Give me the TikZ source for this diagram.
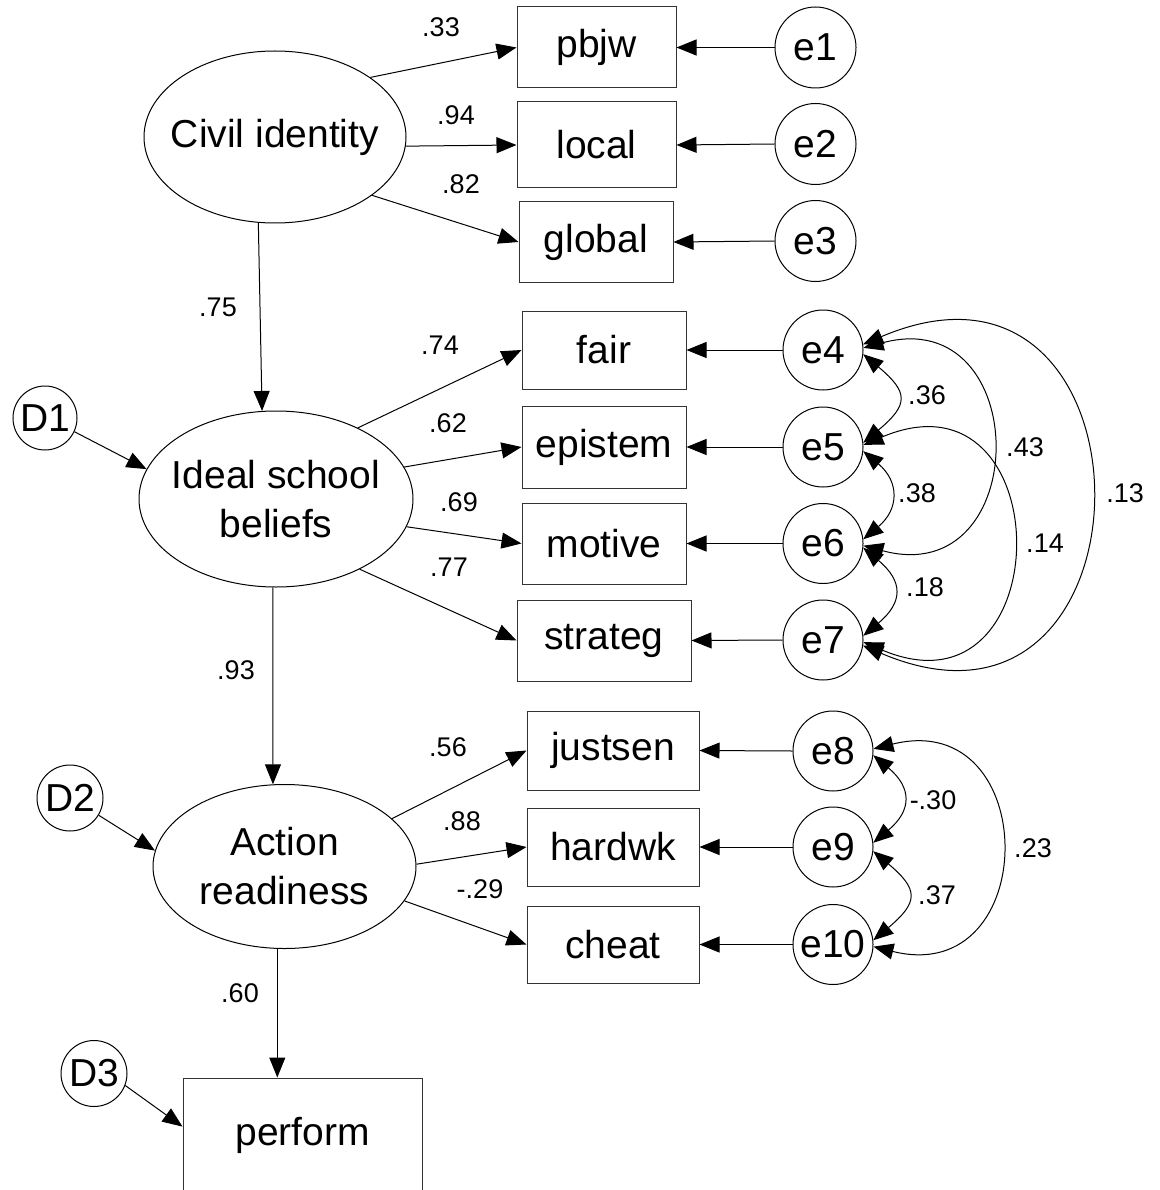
\documentclass[tikz,border=0pt]{standalone}
\usepackage{fontspec}
\setmainfont{Liberation Sans}
\usetikzlibrary{arrows.meta,shapes.geometric}
\begin{document}
\begin{tikzpicture}[x=1pt,y=1pt,
  every node/.style={inner sep=0pt},
  big/.style={font=\fontsize{39}{49}\selectfont},
  coef/.style={font=\fontsize{27}{30}\selectfont},
  latent/.style={draw, ellipse, line width=1pt},
  obs/.style={draw=black!80, rectangle, line width=1pt, big},
  err/.style={draw, circle, line width=1pt, minimum size=80pt, big},
  dist/.style={draw, circle, line width=1pt, minimum size=66pt, big},
  reg/.style={-{Triangle[length=20pt,width=16pt]}, line width=1pt},
  cov/.style={{Triangle[length=20pt,width=16pt]}-{Triangle[length=20pt,width=16pt]}, line width=1pt}
]
\useasboundingbox (0,0) rectangle (1159,-1190);

% latent variables
\node[latent, minimum width=262pt, minimum height=172pt,
      label={[big]center:Civil identity}] (civ) at (275,-137) {};
\node[latent, minimum width=274pt, minimum height=176pt,
      label={[big,align=center]center:{Ideal school\\beliefs}}] (isb) at (276,-499) {};
\node[latent, minimum width=263pt, minimum height=164pt,
      label={[big,align=center]center:{Action\\readiness}}] (act) at (284.5,-866.5) {};

% disturbances
\node[dist, minimum size=64pt] (d1) at (45,-418) {D1};
\node[dist] (d2) at (70,-798) {D2};
\node[dist] (d3) at (94,-1073.5) {D3};

% indicators
\node[obs, minimum width=159pt, minimum height=81pt] (pbjw)   at (596.5,-47.5) {pbjw};
\node[obs, minimum width=159pt, minimum height=86pt] (local)  at (596.5,-145) {local};
\node[obs, minimum width=154pt, minimum height=80pt] (global) at (596,-242) {global};
\node[obs, minimum width=164pt, minimum height=78pt] (fair)    at (604,-350) {fair};
\node[obs, minimum width=164pt, minimum height=82pt] (epistem) at (604,-447) {epistem};
\node[obs, minimum width=164pt, minimum height=81pt] (motive)  at (604,-543.5) {motive};
\node[obs, minimum width=174pt, minimum height=81pt] (strateg) at (604,-640.5) {strateg};
\node[obs, minimum width=172pt, minimum height=79pt] (justsen) at (613,-750.5) {justsen};
\node[obs, minimum width=172pt, minimum height=78pt] (hardwk)  at (613,-847) {hardwk};
\node[obs, minimum width=172pt, minimum height=77pt] (cheat)   at (613,-944.5) {cheat};
\node[obs, minimum width=239pt, minimum height=114pt] (perf)   at (302.5,-1135) {perform};

% measurement errors
\node[err, minimum size=81pt] (e1) at (815.5,-47.5) {e1};
\node[err, minimum size=81pt] (e2) at (815.5,-144) {e2};
\node[err, minimum size=81pt] (e3) at (815.5,-241) {e3};
\node[err] (e4)  at (823,-350) {e4};
\node[err] (e5)  at (823,-447) {e5};
\node[err] (e6)  at (823,-543.5) {e6};
\node[err] (e7)  at (823,-640) {e7};
\node[err] (e8)  at (833,-751) {e8};
\node[err] (e9)  at (833,-847) {e9};
\node[err] (e10) at (833,-944.5) {e10};

% loadings and structural paths
\draw[reg] (civ.32)  -- (pbjw.west);
\draw[reg] (civ.-4)  -- (local.west);
\draw[reg] (civ.-31) -- (global.west);
\draw[reg] (civ.-101) -- (isb.99);
\draw[reg] (d1.-25) -- (isb.167.8);
\draw[reg] (isb.41.2)  -- (fair.west);
\draw[reg] (isb.14.5)  -- (epistem.west);
\draw[reg] (isb.-12.2) -- (motive.west);
\draw[reg] (isb.-40.5) -- (strateg.west);
\draw[reg] (isb.-92.6) -- (act.98);
\draw[reg] (d2.-31) -- (act.173.6);
\draw[reg] (act.24.1)  -- (justsen.west);
\draw[reg] (act.1.1)   -- (hardwk.west);
\draw[reg] (act.-16.5) -- (cheat.west);
\draw[reg] (act.-95.3) -- (act.-95.3 |- perf.north);
\draw[reg] (d3.-21) -- (perf.176.6);

% error paths
\foreach \e/\v in {e1/pbjw,e2/local,e3/global,e4/fair,e5/epistem,e6/motive,
                   e7/strateg,e8/justsen,e9/hardwk,e10/cheat}
  \draw[reg] (\e.west) -- (\v.east);

% error covariances
\draw[cov] (e4.-6) to[out=-40,in=40,looseness=1.72] (e5.6);
\draw[cov] (e5.-6) to[out=-40,in=40,looseness=1.37] (e6.6);
\draw[cov] (e6.-6) to[out=-40,in=40,looseness=1.52] (e7.6);
\draw[cov] (e4.3)  to[out=15,in=-15,looseness=2.29] (e6.-3);
\draw[cov] (e5.3)  to[out=23,in=-23,looseness=2.80] (e7.-3);
\draw[cov] (e4.8)  to[out=23,in=-23,looseness=2.80] (e7.-8);
\draw[cov] (e8.-6) to[out=-40,in=40,looseness=1.48] (e9.6);
\draw[cov] (e9.-6) to[out=-40,in=40,looseness=1.71] (e10.6);
\draw[cov] (e8.3)  to[out=14,in=-14,looseness=2.26] (e10.-3);

% coefficients
\node[coef] (c1)  at (441,-27)  {.33};
\node[coef] (c2)  at (456,-115) {.94};
\node[coef] (c3)  at (461,-184) {.82};
\node[coef] (c4)  at (218,-307) {.75};
\node[coef] (c5)  at (440,-345) {.74};
\node[coef] (c6)  at (448,-423) {.62};
\node[coef] (c7)  at (459,-502) {.69};
\node[coef] (c8)  at (449,-567) {.77};
\node[coef] (c9)  at (236,-670) {.93};
\node[coef] (c10) at (448,-747) {.56};
\node[coef] (c11) at (462,-821) {.88};
\node[coef] (c12) at (480,-889) {-.29};
\node[coef] (c13) at (240,-993) {.60};
\node[coef] (r1) at (927,-395)  {.36};
\node[coef] (r2) at (917,-493)  {.38};
\node[coef] (r3) at (925,-587)  {.18};
\node[coef] (r4) at (1025,-447) {.43};
\node[coef] (r5) at (1045,-543) {.14};
\node[coef] (r6) at (1125,-493) {.13};
\node[coef] (r7) at (933,-800)  {-.30};
\node[coef] (r8) at (937,-895)  {.37};
\node[coef] (r9) at (1033,-848) {.23};
\end{tikzpicture}
\end{document}
